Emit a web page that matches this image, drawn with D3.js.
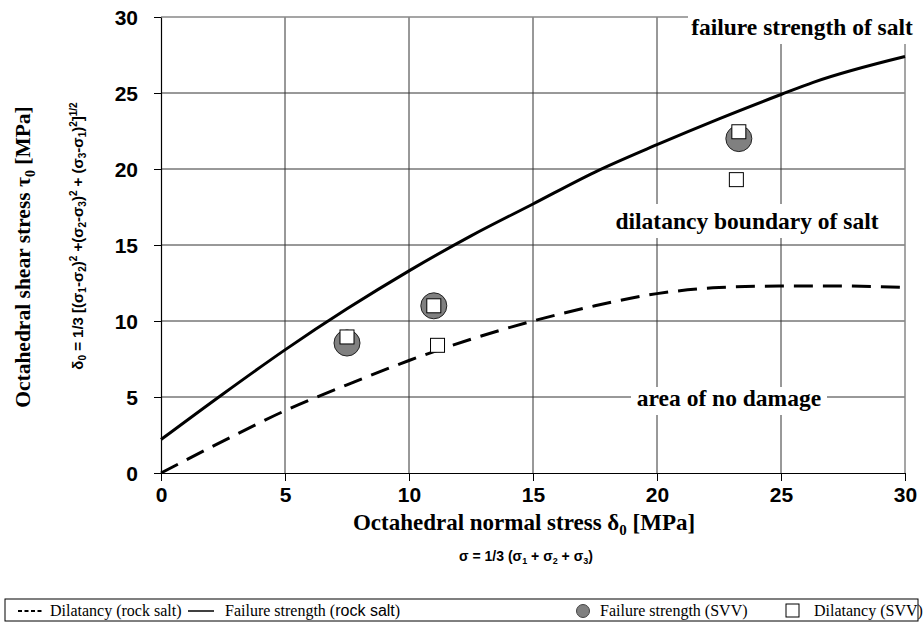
<!DOCTYPE html>
<html>
<head>
<meta charset="utf-8">
<script src="https://cdn.jsdelivr.net/npm/d3@7"></script>
<style>
  body { margin: 0; background: #fff; }
  svg { display: block; }
  .serif { font-family: 'Liberation Serif', 'Times New Roman', Times, 'DejaVu Serif', serif; }
  .sans { font-family: 'Liberation Sans', Arial, Helvetica, sans-serif; }
</style>
</head>
<body>
<svg id="svg" width="924" height="632"></svg>
<script>
const width = 924;
const height = 632;

const paddings = {
	left: 161,
	top: 17,
	right: 19,
	bottom: 159
};

// tick labels
const xTicks = [0, 5, 10, 15, 20, 25, 30];
const yTicks = [0, 5, 10, 15, 20, 25, 30];

// failure strength of rock salt (solid line)
const failureX = [0, 2.5, 5, 7.5, 10, 12.5, 15, 17.5, 20, 22.5, 25, 26.3, 30];
const failureY = [2.2, 5.2, 8.1, 10.8, 13.3, 15.6, 17.7, 19.8, 21.6, 23.3, 24.9, 25.7, 27.4];

// dilatancy boundary of rock salt (dashed line)
const dilatancyX = [0, 2.5, 5, 7.5, 10, 12.5, 15, 17.5, 20, 22.5, 25, 27.5, 30];
const dilatancyY = [0, 2.1, 4.1, 5.8, 7.4, 8.8, 10.0, 11.0, 11.8, 12.2, 12.3, 12.3, 12.2];

// SVV measurements
const svvFailureX = [7.5, 11.0, 23.3];
const svvFailureY = [8.55, 11.0, 22.0];
const svvDilatancyX = [7.5, 11.0, 11.15, 23.3, 23.2];
const svvDilatancyY = [8.95, 11.0, 8.4, 22.45, 19.3];

const svg = d3.select('#svg');

const xScale = d3.scaleLinear()
	.domain([0, 30])
	.range([paddings.left, width - paddings.right]);

const yScale = d3.scaleLinear()
	.domain([0, 30])
	.range([height - paddings.bottom, paddings.top]);

const x0 = xScale(0), x1 = xScale(30), y0 = yScale(0), y1 = yScale(30);

// grid
const grid = svg.append('g');
grid.selectAll(null)
	.data(xTicks.slice(1, -1))
	.enter()
	.append('line')
	.attr('x1', d => xScale(d)).attr('x2', d => xScale(d))
	.attr('y1', y0).attr('y2', y1)
	.attr('stroke', '#333').attr('stroke-width', 1);
grid.selectAll(null)
	.data(yTicks.slice(1, -1))
	.enter()
	.append('line')
	.attr('y1', d => yScale(d)).attr('y2', d => yScale(d))
	.attr('x1', x0).attr('x2', x1)
	.attr('stroke', '#333').attr('stroke-width', 1);

// top and right border
svg.append('path')
	.attr('d', `M${x0},${y1}H${x1}V${y0}`)
	.attr('fill', 'none')
	.attr('stroke', '#888')
	.attr('stroke-width', 1.5);

// axes
const xAxis = d3.axisBottom(xScale).tickValues(xTicks).tickSize(8).tickSizeOuter(0).tickPadding(6);
const yAxis = d3.axisLeft(yScale).tickValues(yTicks).tickSize(7).tickSizeOuter(0).tickPadding(16);

const gx = svg.append('g')
	.attr('transform', 'translate(0,' + y0 + ')')
	.call(xAxis);
const gy = svg.append('g')
	.attr('transform', 'translate(' + x0 + ',0)')
	.call(yAxis);

[gx, gy].forEach(g => {
	g.attr('font-family', null).attr('font-size', null);
	g.select('.domain').attr('stroke', '#000').attr('stroke-width', 1.2);
	g.selectAll('.tick line').attr('stroke', '#000');
	g.selectAll('.tick text')
		.attr('class', 'sans')
		.attr('font-size', 21)
		.attr('font-weight', 'bold')
		.attr('fill', '#000');
});
gy.selectAll('.tick text').attr('dy', '0.36em');

// region labels with white background
const regionLabels = [
	{ text: 'failure strength of salt', x: 802, y: 35, w: 228, h: 44 },
	{ text: 'dilatancy boundary of salt', x: 747, y: 229, w: 272, h: 34 },
	{ text: 'area of no damage', x: 729, y: 406, w: 196, h: 28 }
];

svg.selectAll(null)
	.data(regionLabels)
	.enter()
	.append('rect')
	.attr('x', d => d.x - d.w / 2)
	.attr('y', d => d.y - d.h + 9)
	.attr('width', d => d.w)
	.attr('height', d => d.h)
	.attr('fill', '#fff');

// curves
const line = d3.line()
	.x(d => xScale(d[0]))
	.y(d => yScale(d[1]))
	.curve(d3.curveMonotoneX);

svg.append('path')
	.datum(dilatancyX.map((v, i) => [v, dilatancyY[i]]))
	.attr('d', line)
	.attr('fill', 'none')
	.attr('stroke', '#000')
	.attr('stroke-width', 3)
	.attr('stroke-dasharray', '19,10');

svg.append('path')
	.datum(failureX.map((v, i) => [v, failureY[i]]))
	.attr('d', line)
	.attr('fill', 'none')
	.attr('stroke', '#000')
	.attr('stroke-width', 3);

// SVV points
svg.selectAll(null)
	.data(svvFailureX.map((v, i) => [v, svvFailureY[i]]))
	.enter()
	.append('circle')
	.attr('cx', d => xScale(d[0]))
	.attr('cy', d => yScale(d[1]))
	.attr('r', 13)
	.attr('fill', '#808080')
	.attr('stroke', '#222')
	.attr('stroke-width', 1);

svg.selectAll(null)
	.data(svvDilatancyX.map((v, i) => [v, svvDilatancyY[i]]))
	.enter()
	.append('rect')
	.attr('x', d => xScale(d[0]) - 7)
	.attr('y', d => yScale(d[1]) - 7)
	.attr('width', 14)
	.attr('height', 14)
	.attr('fill', '#fff')
	.attr('stroke', '#000')
	.attr('stroke-width', 1);

svg.selectAll(null)
	.data(regionLabels)
	.enter()
	.append('text')
	.attr('class', 'serif')
	.attr('font-size', 23.5)
	.attr('font-weight', 'bold')
	.attr('x', d => d.x)
	.attr('y', d => d.y)
	.attr('text-anchor', 'middle')
	.text(d => d.text);

// axis titles
const xTitle = svg.append('text')
	.attr('class', 'serif')
	.attr('font-size', 23)
	.attr('font-weight', 'bold')
	.attr('x', 524)
	.attr('y', 530)
	.attr('text-anchor', 'middle');
xTitle.append('tspan').text('Octahedral normal stress δ');
xTitle.append('tspan').attr('font-size', 15).attr('dy', 5).text('0');
xTitle.append('tspan').attr('dy', -5).text(' [MPa]');

const xSub = svg.append('text')
	.attr('class', 'sans')
	.attr('font-size', 14)
	.attr('font-weight', 'bold')
	.attr('x', 526)
	.attr('y', 561)
	.attr('text-anchor', 'middle');
xSub.append('tspan').text('σ = 1/3 (σ');
xSub.append('tspan').attr('font-size', 9).attr('dy', 3).text('1');
xSub.append('tspan').attr('dy', -3).text(' + σ');
xSub.append('tspan').attr('font-size', 9).attr('dy', 3).text('2');
xSub.append('tspan').attr('dy', -3).text(' + σ');
xSub.append('tspan').attr('font-size', 9).attr('dy', 3).text('3');
xSub.append('tspan').attr('dy', -3).text(')');

const yTitle = svg.append('text')
	.attr('class', 'serif')
	.attr('font-size', 21.5)
	.attr('font-weight', 'bold')
	.attr('transform', 'translate(30,257) rotate(-90)')
	.attr('text-anchor', 'middle');
yTitle.append('tspan').text('Octahedral shear stress τ');
yTitle.append('tspan').attr('font-size', 14).attr('dy', 5).text('0');
yTitle.append('tspan').attr('dy', -5).text(' [MPa]');

const ySub = svg.append('text')
	.attr('class', 'sans')
	.attr('font-size', 15)
	.attr('font-weight', 'bold')
	.attr('transform', 'translate(83,236) rotate(-90)')
	.attr('text-anchor', 'middle');
const subParts = [
	['δ', 0], ['0', 1], [' = 1/3 [(σ', 0], ['1', 1], ['-σ', 0], ['2', 1], [')', 0], ['2', 2],
	[' +(σ', 0], ['2', 1], ['-σ', 0], ['3', 1], [')', 0], ['2', 2],
	[' + (σ', 0], ['3', 1], ['-σ', 0], ['1', 1], [')', 0], ['2', 2], [']', 0], ['1/2', 2]
];
let prevShift = 0;
subParts.forEach(([t, k]) => {
	const shift = k === 1 ? 3 : k === 2 ? -6 : 0;
	ySub.append('tspan')
		.attr('font-size', k ? 10 : 15)
		.attr('dy', shift - prevShift)
		.text(t);
	prevShift = shift;
});

// legend
const legend = svg.append('g').attr('transform', 'translate(0,611)');
legend.append('rect')
	.attr('x', 5).attr('y', -12)
	.attr('width', 913).attr('height', 22)
	.attr('fill', '#fff').attr('stroke', '#000').attr('stroke-width', 1);

const legendText = (x, parts) => {
	const t = legend.append('text')
		.attr('class', 'serif')
		.attr('font-size', 16)
		.attr('x', x).attr('y', 5);
	parts.forEach(([s, sans]) => {
		const sp = t.append('tspan').text(s);
		if (sans) sp.attr('class', 'sans').attr('font-size', 16);
	});
};

legend.append('line')
	.attr('x1', 18).attr('x2', 44).attr('y1', 0).attr('y2', 0)
	.attr('stroke', '#000').attr('stroke-width', 2).attr('stroke-dasharray', '4,2.5');
legendText(50, [['Dilatancy (rock salt)', false]]);

legend.append('line')
	.attr('x1', 188).attr('x2', 214).attr('y1', 0).attr('y2', 0)
	.attr('stroke', '#000').attr('stroke-width', 1.5);
legendText(225, [['Failure strength (', false], ['rock salt', true], [')', false]]);

legend.append('circle').attr('cx', 583).attr('cy', 0).attr('r', 6.5)
	.attr('fill', '#808080').attr('stroke', '#444');
legendText(600, [['Failure strength (SVV)', false]]);

legend.append('rect').attr('x', 786).attr('y', -7).attr('width', 13).attr('height', 13)
	.attr('fill', '#fff').attr('stroke', '#000');
legendText(814, [['Dilatancy (SVV)', false]]);
</script>
</body>
</html>
